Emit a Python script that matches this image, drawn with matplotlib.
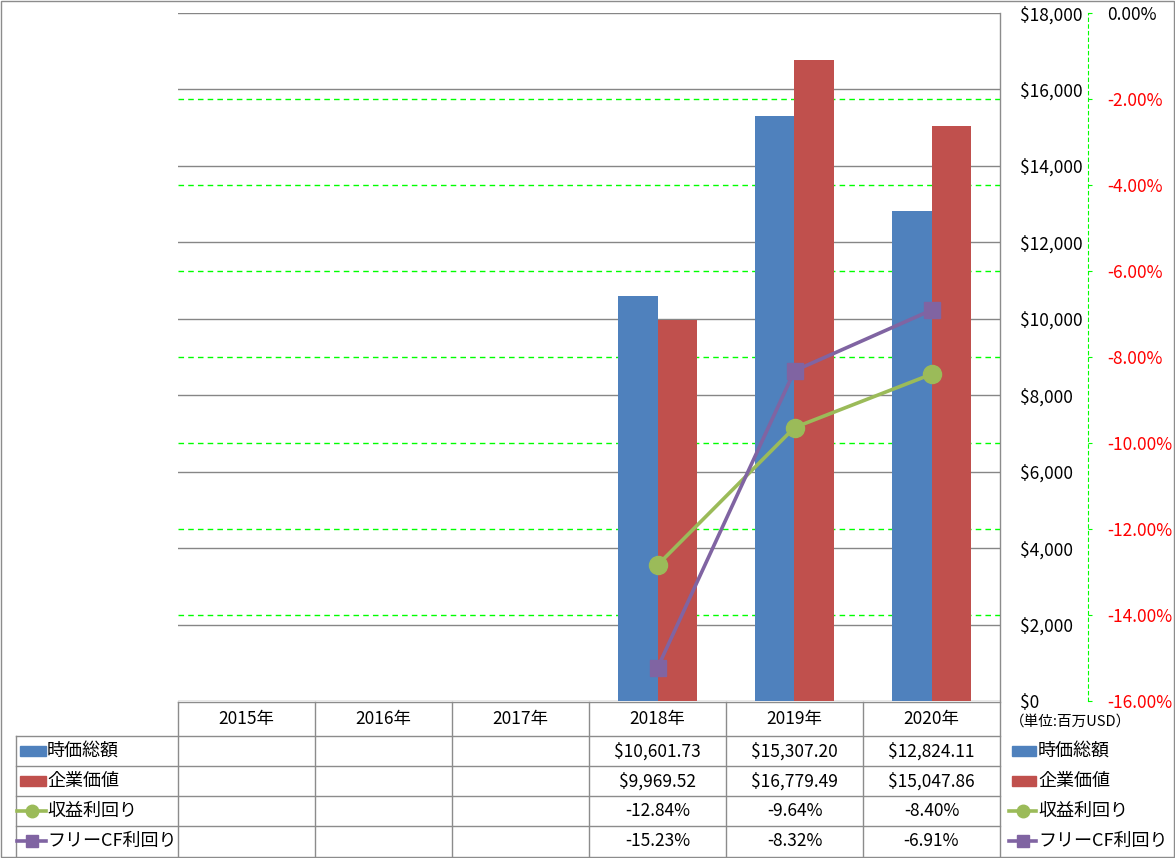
import numpy as np
import matplotlib
matplotlib.use('Agg')
import matplotlib.pyplot as plt
import matplotlib.transforms as mtransforms
from matplotlib.patches import Rectangle

plt.rcParams['font.family'] = ['Noto Sans CJK JP', 'DejaVu Sans']

#### data ####
years = ['2015年', '2016年', '2017年', '2018年', '2019年', '2020年']
market_cap = [np.nan, np.nan, np.nan, 10601.73, 15307.20, 12824.11]   # 時価総額
ent_value = [np.nan, np.nan, np.nan, 9969.52, 16779.49, 15047.86]     # 企業価値
earn_yield = [np.nan, np.nan, np.nan, -12.84, -9.64, -8.40]           # 収益利回り (%)
fcf_yield = [np.nan, np.nan, np.nan, -15.23, -8.32, -6.91]            # フリーCF利回り (%)
series_names = ['時価総額', '企業価値', '収益利回り', 'フリーCF利回り']
unit_label = '（単位:百万USD）'

#### style ####
BLUE, RED, GREEN, PURPLE = '#4F81BD', '#C0504D', '#9BBB59', '#8064A2'
GRAY = '#868686'
LIME = '#00FF00'
W, H = 1175, 858


def px(x0, y0, x1, y1):
    # pixel box (top-left origin) -> figure fraction rect
    return [x0 / W, 1 - y1 / H, (x1 - x0) / W, (y1 - y0) / H]


fig = plt.figure(figsize=(W / 100, H / 100), dpi=100)

# plot area
ax = fig.add_axes(px(178, 13, 1000, 701))
ax.set_facecolor('none')
x = np.arange(len(years))
bw = 0.29
ax.bar(x - bw / 2, market_cap, bw, color=BLUE, zorder=2)
ax.bar(x + bw / 2, ent_value, bw, color=RED, zorder=2)
ax.set_xlim(-0.5, len(years) - 0.5)
ax.set_ylim(0, 18000)
ax.set_xticks([])
ax.grid(axis='y', color=GRAY, lw=1)
ax.set_axisbelow(True)
for s in ax.spines.values():
    s.set_visible(False)

# secondary axis (percent)
ax2 = ax.twinx()
ax2.set_ylim(-16, 0)
pct_ticks = list(range(-16, 1, 2))
ax2.set_yticks(pct_ticks)
ax2.set_yticklabels(['{:.2f}%'.format(t) for t in pct_ticks])
for s in ax2.spines.values():
    s.set_visible(False)
ax2.spines['right'].set_visible(True)
ax2.spines['right'].set_position(('axes', (1088 - 178) / (1000 - 178)))
ax2.spines['right'].set_color(LIME)
ax2.spines['right'].set_linestyle((0, (3, 3)))
ax2.tick_params(axis='y', direction='out', length=3, color=LIME,
                labelcolor='red', pad=10.5, labelsize=12.5)
ax2.get_yticklabels()[-1].set_color('black')

# primary ticks on the right (after twinx, which moves them left)
ax.yaxis.tick_right()
ax.set_yticks(range(0, 18001, 2000))
ax.set_yticklabels(['${:,}'.format(v) for v in range(0, 18001, 2000)])
ax.tick_params(axis='y', left=False, right=False, labelleft=False,
               labelright=True, length=0, pad=14.4, labelsize=12.5)

# green dashed grid of the percent axis, drawn behind the bars
blend = mtransforms.blended_transform_factory(ax.transAxes, ax2.transData)
for t in pct_ticks[1:-1]:
    ax.plot([0, 1], [t, t], transform=blend, color=LIME, lw=1,
            ls=(0, (4, 3)), zorder=0.6)

ax2.plot(x, earn_yield, color=GREEN, lw=2.6, marker='o', ms=13, zorder=3)
ax2.plot(x, fcf_yield, color=PURPLE, lw=2.6, marker='s', ms=12, zorder=4)

# table / legends overlay in pixel coordinates
ov = fig.add_axes([0, 0, 1, 1], zorder=-1)
ov.set_xlim(0, W)
ov.set_ylim(H, 0)
ov.axis('off')

col_edges = [178 + 137 * i for i in range(len(years) + 1)]
row_edges = [702, 736, 766, 796, 826, 856]
lc = '#8C8C8C'
ov.plot([178, 1000], [row_edges[0]] * 2, color=lc, lw=1)
for y in row_edges[1:-1]:
    ov.plot([16, 1000], [y, y], color=lc, lw=1)
ov.plot([16, 16], [row_edges[1], 856], color=lc, lw=1)
for cx in col_edges[:-1]:
    ov.plot([cx, cx], [row_edges[0], 856], color=lc, lw=1)
ov.plot([1000, 1000], [13, 856], color=lc, lw=1)
ov.add_patch(Rectangle((0.5, 0.5), W - 1.5, H - 1.5, fill=False, ec=lc, lw=1))

fs = 12.5
hy = (row_edges[0] + row_edges[1]) / 2
for i, yr in enumerate(years):
    ov.text(col_edges[i] + 68.5, hy, yr, ha='center', va='center', fontsize=fs)

rows = [
    ['${:,.2f}'.format(v) if not np.isnan(v) else '' for v in market_cap],
    ['${:,.2f}'.format(v) if not np.isnan(v) else '' for v in ent_value],
    ['{:.2f}%'.format(v) if not np.isnan(v) else '' for v in earn_yield],
    ['{:.2f}%'.format(v) if not np.isnan(v) else '' for v in fcf_yield],
]
row_cy = [(row_edges[k] + row_edges[k + 1]) / 2 for k in range(1, 5)]
for r, cy in zip(rows, row_cy):
    for i, s in enumerate(r):
        ov.text(col_edges[i] + 68.5, cy, s, ha='center', va='center', fontsize=fs)


def legend_key(x0, x1, cy, k):
    if k == 0:
        ov.add_patch(Rectangle((x0, cy - 5), x1 - x0, 10, color=BLUE))
    elif k == 1:
        ov.add_patch(Rectangle((x0, cy - 5), x1 - x0, 10, color=RED))
    elif k == 2:
        ov.plot([x0 - 3, x1], [cy, cy], color=GREEN, lw=2.6)
        ov.plot([(x0 + x1) / 2 - 1.5], [cy], marker='o', ms=9, color=GREEN)
    else:
        ov.plot([x0 - 3, x1], [cy, cy], color=PURPLE, lw=2.6)
        ov.plot([(x0 + x1) / 2 - 1.5], [cy], marker='s', ms=8, color=PURPLE)


for k, (name, cy) in enumerate(zip(series_names, row_cy)):
    legend_key(20, 46, cy, k)
    ov.text(47, cy, name, ha='left', va='center', fontsize=13)
    legend_key(1012, 1036, cy, k)
    ov.text(1038, cy, name, ha='left', va='center', fontsize=13)

ov.text(1010, 722, unit_label, ha='left', va='center', fontsize=10.5)

fig.savefig('out.png', dpi=100)
